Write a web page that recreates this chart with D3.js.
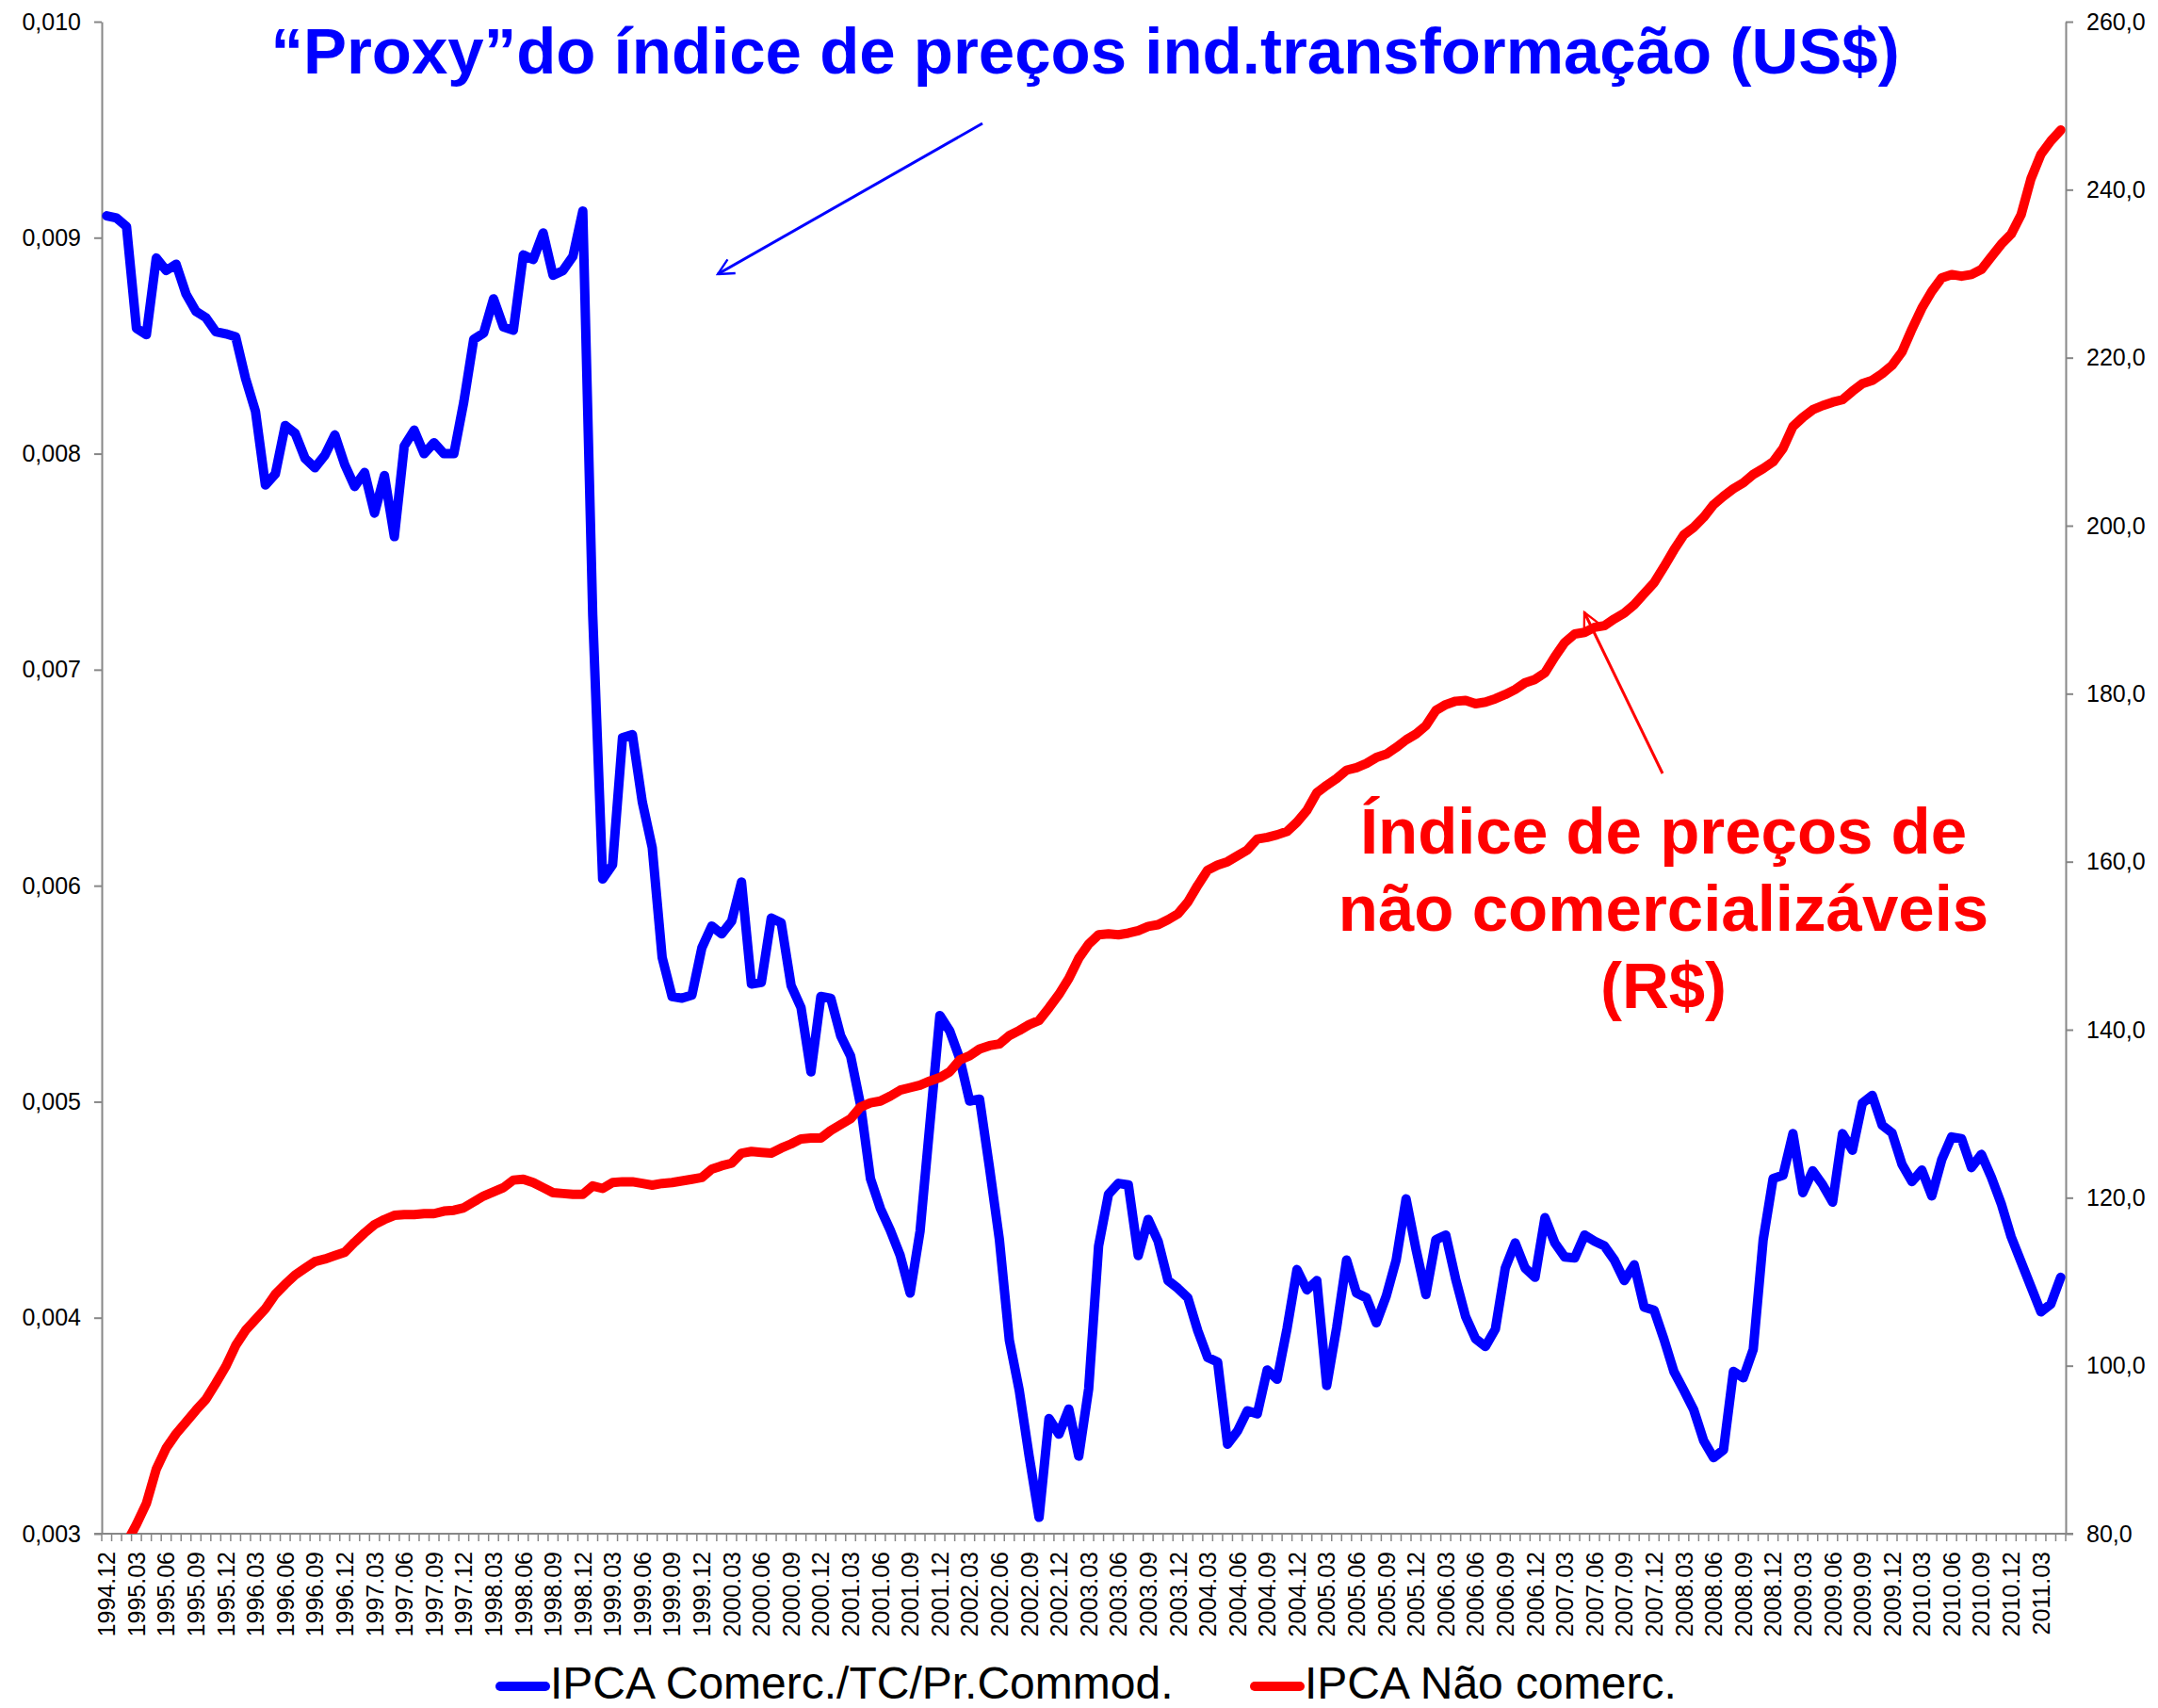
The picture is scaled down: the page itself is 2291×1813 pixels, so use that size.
<!DOCTYPE html>
<html>
<head>
<meta charset="utf-8">
<script src="https://cdn.jsdelivr.net/npm/d3@7"></script>
<style>
  body { margin: 0; background: #fff; }
  svg { display: block; }
  text { font-family: "Liberation Sans", Arial, sans-serif; }
</style>
</head>
<body>
<svg id="chart" width="2291" height="1813"></svg>
<script>
// Monthly categories, Dec 1994 to May 2011
const months = [];
for (let y = 1994, m = 12; months.length < 198;) {
  months.push(y + "." + String(m).padStart(2, "0"));
  m++; if (m > 12) { m = 1; y++; }
}
// Every third month gets a label
const tickLabels = months.filter((d, i) => i % 3 === 0);

const leftTicks = [0.003, 0.004, 0.005, 0.006, 0.007, 0.008, 0.009, 0.010];
const rightTicks = [80, 100, 120, 140, 160, 180, 200, 220, 240, 260];

// IPCA Comerc./TC/Pr.Commod. (left axis)
const comerc = [
  0.009101, 0.009091, 0.009051, 0.008580, 0.008551, 0.008906, 0.008848, 0.008877, 0.008739, 0.008659,
  0.008630, 0.008565, 0.008555, 0.008541, 0.008348, 0.008196, 0.007855, 0.007906, 0.008130, 0.008094,
  0.007978, 0.007935, 0.007993, 0.008087, 0.007949, 0.007848, 0.007913, 0.007725, 0.007899, 0.007616,
  0.008036, 0.008109, 0.008000, 0.008051, 0.008000, 0.008000, 0.008239, 0.008529, 0.008558, 0.008717,
  0.008587, 0.008572, 0.008920, 0.008899, 0.009022, 0.008826, 0.008848, 0.008913, 0.009123, 0.007253,
  0.006031, 0.006097, 0.006685, 0.006699, 0.006387, 0.006176, 0.005668, 0.005487, 0.005479, 0.005494,
  0.005712, 0.005813, 0.005777, 0.005835, 0.006017, 0.005545, 0.005552, 0.005850, 0.005828, 0.005538,
  0.005436, 0.005138, 0.005487, 0.005479, 0.005305, 0.005211, 0.004985, 0.004644, 0.004506, 0.004405,
  0.004288, 0.004114, 0.004400, 0.004900, 0.005399, 0.005327, 0.005200, 0.005003, 0.005012, 0.004695,
  0.004361, 0.003896, 0.003664, 0.003359, 0.003076, 0.003533, 0.003461, 0.003577, 0.003359, 0.003671,
  0.004332, 0.004572, 0.004622, 0.004615, 0.004288, 0.004455, 0.004354, 0.004172, 0.004136, 0.004092,
  0.003940, 0.003816, 0.003795, 0.003414, 0.003475, 0.003569, 0.003555, 0.003758, 0.003715, 0.003950,
  0.004223, 0.004129, 0.004172, 0.003686, 0.003954, 0.004267, 0.004114, 0.004092, 0.003976, 0.004100,
  0.004267, 0.004550, 0.004317, 0.004107, 0.004361, 0.004383, 0.004179, 0.004005, 0.003903, 0.003867,
  0.003947, 0.004230, 0.004346, 0.004230, 0.004187, 0.004463, 0.004346, 0.004281, 0.004277, 0.004383,
  0.004354, 0.004332, 0.004267, 0.004172, 0.004245, 0.004049, 0.004035, 0.003900, 0.003751, 0.003664,
  0.003573, 0.003431, 0.003352, 0.003388, 0.003751, 0.003722, 0.003853, 0.004360, 0.004644, 0.004659,
  0.004852, 0.004579, 0.004680, 0.004615, 0.004535, 0.004852, 0.004775, 0.004993, 0.005029, 0.004891,
  0.004855, 0.004710, 0.004630, 0.004683, 0.004564, 0.004731, 0.004837, 0.004829, 0.004695, 0.004756,
  0.004651, 0.004528, 0.004375, 0.004259, 0.004143, 0.004027, 0.004063, 0.004187
];

// IPCA Não comerc. (right axis)
const naoComerc = [
  74.5, 76.8, 78.9, 81.1, 83.6, 87.7, 90.2, 91.9, 93.3, 94.7,
  96.0, 97.9, 99.9, 102.4, 104.2, 105.5, 106.8, 108.5, 109.7, 110.8,
  111.6, 112.4, 112.7, 113.1, 113.5, 114.7, 115.8, 116.8, 117.4, 117.9,
  118.0, 118.0, 118.1, 118.1, 118.4, 118.5, 118.8, 119.5, 120.2, 120.7,
  121.2, 122.1, 122.2, 121.8, 121.2, 120.6, 120.5, 120.4, 120.4, 121.4,
  121.1, 121.8, 121.9, 121.9, 121.7, 121.5, 121.7, 121.8, 122.0, 122.2,
  122.4, 123.4, 123.8, 124.1, 125.3, 125.5, 125.4, 125.3, 125.9, 126.4,
  127.0, 127.1, 127.1, 128.0, 128.7, 129.4, 130.8, 131.3, 131.5, 132.1,
  132.8, 133.1, 133.4, 133.9, 134.3, 135.0, 136.4, 136.9, 137.7, 138.1,
  138.3, 139.3, 139.9, 140.6, 141.1, 142.6, 144.2, 146.1, 148.5, 150.2,
  151.3, 151.4, 151.3, 151.5, 151.8, 152.3, 152.5, 153.1, 153.8, 155.2,
  157.2, 159.0, 159.6, 160.0, 160.7, 161.4, 162.7, 162.9, 163.2, 163.6,
  164.7, 166.1, 168.2, 169.1, 169.9, 170.9, 171.2, 171.7, 172.4, 172.8,
  173.6, 174.5, 175.2, 176.2, 178.0, 178.7, 179.1, 179.2, 178.8, 179.0,
  179.4, 179.9, 180.5, 181.3, 181.7, 182.5, 184.4, 186.1, 187.1, 187.3,
  187.9, 188.1, 188.9, 189.6, 190.6, 191.9, 193.2, 195.1, 197.1, 198.9,
  199.8, 201.0, 202.5, 203.5, 204.4, 205.1, 206.1, 206.8, 207.6, 209.2,
  211.8, 212.9, 213.8, 214.3, 214.7, 215.0, 216.0, 216.9, 217.3, 218.1,
  219.1, 220.7, 223.4, 225.9, 227.9, 229.5, 229.9, 229.7, 229.9, 230.5,
  232.0, 233.5, 234.7, 237.0, 241.3, 244.2, 245.8, 247.1
];

const seriesNames = ["IPCA Comerc./TC/Pr.Commod.", "IPCA Não comerc."];
const titleText = "“Proxy”do índice de preços ind.transformação (US$)";
const noteLines = ["Índice de preços de", "não comercializáveis", "(R$)"];

const plot = { left: 108, right: 2193, top: 23, bottom: 1628 };
const axisGrey = "#878787";
const blue = "#0000ff", red = "#ff0000";

const svg = d3.select("#chart");

const x = d3.scaleBand().domain(months).range([plot.left, plot.right]).paddingInner(0).paddingOuter(0);
const cx = m => x(m) + x.bandwidth() / 2;
const yL = d3.scaleLinear().domain([0.003, 0.010]).range([plot.bottom, plot.top]);
const yR = d3.scaleLinear().domain([80, 260]).range([plot.bottom, plot.top]);

svg.append("defs").append("clipPath").attr("id", "plotClip")
  .append("rect").attr("x", plot.left).attr("y", plot.top - 10)
  .attr("width", plot.right - plot.left).attr("height", plot.bottom - plot.top + 10);

// Left axis
const gL = svg.append("g").attr("transform", `translate(${plot.left},0)`)
  .call(d3.axisLeft(yL).tickValues(leftTicks).tickSizeInner(8).tickSizeOuter(0).tickPadding(14)
    .tickFormat(d => d3.format(".3f")(d).replace(".", ",")));
// Right axis
const gR = svg.append("g").attr("transform", `translate(${plot.right},0)`)
  .call(d3.axisRight(yR).tickValues(rightTicks).tickSizeInner(8).tickSizeOuter(0).tickPadding(14)
    .tickFormat(d => d3.format(".1f")(d).replace(".", ",")));
[gL, gR].forEach(g => {
  g.select(".domain").attr("stroke", axisGrey).attr("stroke-width", 2);
  g.selectAll(".tick line").attr("stroke", axisGrey).attr("stroke-width", 2);
  g.selectAll(".tick text").attr("font-size", 25).attr("fill", "#000")
    .style("font-family", '"Liberation Sans", Arial, sans-serif');
});

// Bottom axis: labels every third month, rotated
const gB = svg.append("g").attr("transform", `translate(0,${plot.bottom})`)
  .call(d3.axisBottom(x).tickValues(tickLabels).tickSize(0).tickPadding(0));
gB.select(".domain").remove();
gB.selectAll(".tick text")
  .attr("font-size", 25).attr("fill", "#000")
  .style("font-family", '"Liberation Sans", Arial, sans-serif')
  .attr("text-anchor", "end")
  .attr("dy", null)
  .attr("transform", "translate(0,19) rotate(-90)")
  .attr("x", 0).attr("y", 0).attr("dominant-baseline", "central");

// Category boundary tick marks and baseline
const bounds = months.map(m => x(m)).concat([plot.right]);
svg.append("g").selectAll("line").data(bounds).join("line")
  .attr("x1", d => d).attr("x2", d => d)
  .attr("y1", plot.bottom).attr("y2", plot.bottom + 8)
  .attr("stroke", axisGrey).attr("stroke-width", 1.5);
svg.append("line").attr("x1", plot.left - 8).attr("x2", plot.right + 8)
  .attr("y1", plot.bottom).attr("y2", plot.bottom)
  .attr("stroke", axisGrey).attr("stroke-width", 2);

// Series lines
const lineL = d3.line().x((d, i) => cx(months[i])).y(d => yL(d));
const lineR = d3.line().x((d, i) => cx(months[i])).y(d => yR(d));
const gLines = svg.append("g").attr("clip-path", "url(#plotClip)");
gLines.append("path").datum(comerc).attr("d", lineL)
  .attr("fill", "none").attr("stroke", blue).attr("stroke-width", 10)
  .attr("stroke-linejoin", "round").attr("stroke-linecap", "round");
gLines.append("path").datum(naoComerc).attr("d", lineR)
  .attr("fill", "none").attr("stroke", red).attr("stroke-width", 10)
  .attr("stroke-linejoin", "round").attr("stroke-linecap", "round");

// Arrow markers
const defs = svg.select("defs");
[["arrowBlue", blue], ["arrowRed", red]].forEach(([id, c]) => {
  defs.append("marker").attr("id", id).attr("viewBox", "0 0 20 20")
    .attr("refX", 18).attr("refY", 10).attr("markerWidth", 7).attr("markerHeight", 7)
    .attr("markerUnits", "strokeWidth").attr("orient", "auto")
    .append("path").attr("d", "M2,2 L18,10 L2,18").attr("fill", "none")
    .attr("stroke", c).attr("stroke-width", 2.2);
});

// Title and its pointer
svg.append("text").attr("x", 1152).attr("y", 78).attr("text-anchor", "middle")
  .attr("font-size", 69).attr("font-weight", "bold").attr("fill", blue).text(titleText);
svg.append("line").attr("x1", 1043).attr("y1", 131).attr("x2", 762).attr("y2", 291)
  .attr("stroke", blue).attr("stroke-width", 3).attr("marker-end", "url(#arrowBlue)");

// Annotation for the non-tradables series
svg.append("line").attr("x1", 1765).attr("y1", 821).attr("x2", 1682).attr("y2", 650)
  .attr("stroke", red).attr("stroke-width", 3).attr("marker-end", "url(#arrowRed)");
const note = svg.append("text").attr("text-anchor", "middle").attr("font-size", 69)
  .attr("font-weight", "bold").attr("fill", red);
noteLines.forEach((t, i) => {
  note.append("tspan").attr("x", 1766).attr("y", [906, 988, 1070][i]).text(t);
});

// Legend
const legendItems = [
  { name: seriesNames[0], color: blue, x0: 526 },
  { name: seriesNames[1], color: red, x0: 1327 }
];
const gLeg = svg.append("g");
legendItems.forEach(it => {
  gLeg.append("line").attr("x1", it.x0 + 5).attr("x2", it.x0 + 53).attr("y1", 1790).attr("y2", 1790)
    .attr("stroke", it.color).attr("stroke-width", 10).attr("stroke-linecap", "round");
  gLeg.append("text").attr("x", it.x0 + 58).attr("y", 1803).attr("font-size", 48)
    .attr("fill", "#000").text(it.name);
});
</script>
</body>
</html>
